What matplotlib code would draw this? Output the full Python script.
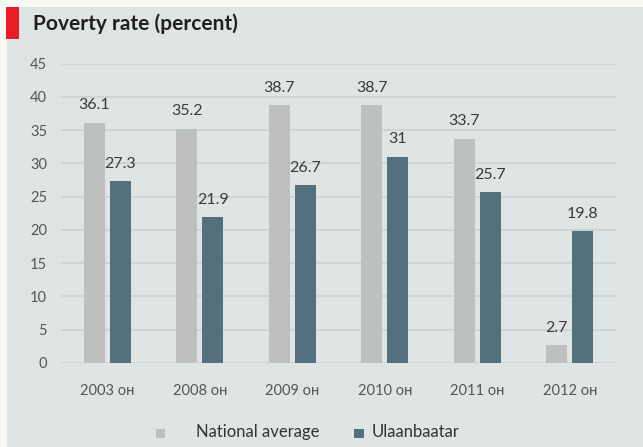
import matplotlib
matplotlib.use("Agg")
import matplotlib.pyplot as plt
from matplotlib.patches import Rectangle
import numpy as np

categories = ["2003 он", "2008 он", "2009 он", "2010 он", "2011 он", "2012 он"]
national = [36.1, 35.2, 38.7, 38.7, 33.7, 2.7]
ulaanbaatar = [27.3, 21.9, 26.7, 31, 25.7, 19.8]
national_labels = ["36.1", "35.2", "38.7", "38.7", "33.7", "2.7"]
ub_labels = ["27.3", "21.9", "26.7", "31", "25.7", "19.8"]
yticks = [0, 5, 10, 15, 20, 25, 30, 35, 40, 45]
series_names = ["National average", "Ulaanbaatar"]

C_NAT = "#bebfc1"
C_UB = "#52717d"
PANEL = "#dfe5e5"
OUTER = "#f8f9f4"
GRID = "#cdd2d2"

plt.rcParams['font.family'] = ['Lato', 'DejaVu Sans']

W, H = 643, 447
fig = plt.figure(figsize=(W / 100, H / 100), dpi=100)
fig.patch.set_facecolor(OUTER)

def fx(px):
    return px / W

def fy(py):
    return 1 - py / H

# panel background
fig.patches.append(Rectangle((fx(7), 0), 1 - fx(7), fy(7), transform=fig.transFigure,
                             facecolor=PANEL, edgecolor='none', zorder=-10))
# red accent
fig.patches.append(Rectangle((fx(6), fy(39)), fx(19) - fx(6), fy(7) - fy(39),
                             transform=fig.transFigure, facecolor="#ed1c24",
                             edgecolor='none', zorder=-5))
fig.text(fx(33), fy(24), "Poverty rate (percent)", fontsize=15, fontweight='bold',
         color="#231f20", va='center', ha='left')

ax = fig.add_axes([fx(61), fy(363), fx(616) - fx(61), fy(63.5) - fy(363)])
ax.set_facecolor('none')
x = np.arange(len(categories))
bw = 0.227
off = 0.14
b1 = ax.bar(x - off, national, bw, color=C_NAT, zorder=3)
b2 = ax.bar(x + off, ulaanbaatar, bw, color=C_UB, zorder=3)
for rect, lab in zip(b1, national_labels):
    ax.annotate(lab, (rect.get_x() + rect.get_width() / 2, rect.get_height()),
                xytext=(0, 12.5), textcoords='offset points', ha='center', va='center',
                fontsize=11.5, color="#3a3a3a")
for rect, lab in zip(b2, ub_labels):
    ax.annotate(lab, (rect.get_x() + rect.get_width() / 2, rect.get_height()),
                xytext=(0, 12.5), textcoords='offset points', ha='center', va='center',
                fontsize=11.5, color="#3a3a3a")

ax.set_xlim(-0.5, len(categories) - 0.5)
ax.set_ylim(0, 45)
ax.set_yticks(yticks)
ax.set_yticklabels([str(v) for v in yticks])
ax.set_xticks(x)
ax.set_xticklabels(categories)
ax.tick_params(axis='y', length=0, pad=10, labelsize=10.5, labelcolor="#555555")
ax.tick_params(axis='x', length=0, pad=15, labelsize=10.5, labelcolor="#555555")
ax.yaxis.grid(True, color=GRID, linewidth=1.3, zorder=0)
ax.set_axisbelow(True)
for s in ax.spines.values():
    s.set_visible(False)

# legend
fig.patches.append(Rectangle((fx(156), fy(438)), fx(165) - fx(156), fy(429) - fy(438),
                             transform=fig.transFigure, facecolor=C_NAT, edgecolor='none'))
fig.text(fx(196), fy(432), series_names[0], fontsize=12, color="#333333", va='center', ha='left')
fig.patches.append(Rectangle((fx(354), fy(438)), fx(364) - fx(354), fy(429) - fy(438),
                             transform=fig.transFigure, facecolor=C_UB, edgecolor='none'))
fig.text(fx(372), fy(432), series_names[1], fontsize=12, color="#333333", va='center', ha='left')

fig.savefig("out.png", dpi=100, facecolor=fig.get_facecolor())
